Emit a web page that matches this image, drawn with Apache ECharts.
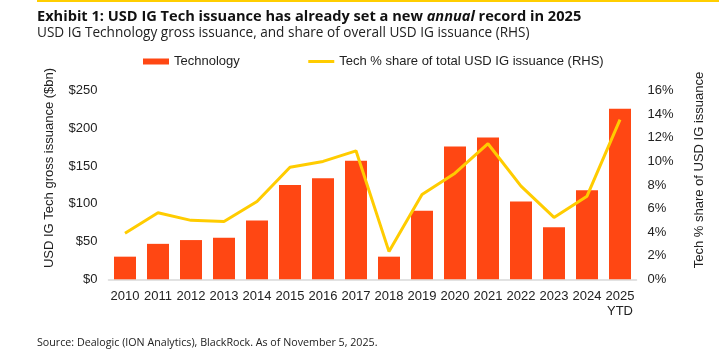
<!DOCTYPE html>
<html>
<head>
<meta charset="utf-8">
<script src="https://cdn.jsdelivr.net/npm/echarts@6/dist/echarts.min.js"></script>
<style>
  html, body { margin: 0; padding: 0; background: #fff; }
  #chart { width: 719px; height: 350px; }
</style>
</head>
<body>
<div id="chart"></div>
<script>
// data
const years = ['2010', '2011', '2012', '2013', '2014', '2015', '2016', '2017',
  '2018', '2019', '2020', '2021', '2022', '2023', '2024', '2025\nYTD']
const techIssuance = [30, 47, 52, 55, 78, 125, 134, 157, 30, 91, 176, 188, 103, 69, 118, 226]
const techShare = [3.9, 5.65, 5.0, 4.9, 6.6, 9.5, 10.0, 10.9, 2.35, 7.2, 9.0, 11.5, 7.9, 5.25, 7.05, 13.55]

const axisFont = 'Liberation Sans, Arial, sans-serif'
const titleFont = 'Open Sans, sans-serif'

const chart = echarts.init(document.getElementById('chart'))

const option = {
  animation: false,
  textStyle: { fontFamily: axisFont },
  title: [
    {
      text: '{b|Exhibit 1: USD IG Tech issuance has already set a new }{i|annual}{b| record in 2025}',
      left: 32,
      top: 4,
      textStyle: {
        rich: {
          b: { fontFamily: titleFont, fontSize: 14.6, fontWeight: 'bold', color: '#111' },
          i: { fontFamily: titleFont, fontSize: 14.6, fontWeight: 'bold', fontStyle: 'italic', color: '#111' }
        }
      },
      subtext: 'USD IG Technology gross issuance, and share of overall USD IG issuance (RHS)',
      subtextStyle: { fontFamily: titleFont, fontSize: 13.6, color: '#222' },
      itemGap: 2
    },
    {
      text: 'Source: Dealogic (ION Analytics), BlackRock. As of November 5, 2025.',
      left: 32,
      top: 332,
      textStyle: { fontFamily: titleFont, fontSize: 10.7, fontWeight: 'normal', color: '#222' }
    }
  ],
  graphic: [
    { type: 'rect', shape: { x: 37, y: 0, width: 682, height: 2 }, style: { fill: '#FFCE00' } }
  ],
  legend: {
    left: 138,
    top: 50,
    itemGap: 67,
    itemWidth: 26,
    itemHeight: 6,
    textStyle: { fontFamily: axisFont, fontSize: 13, color: '#222' },
    data: [
      { name: 'Technology', icon: 'rect' },
      {
        name: 'Tech % share of total USD IG issuance (RHS)',
        itemStyle: { opacity: 0 },
        lineStyle: { width: 3 }
      }
    ]
  },
  grid: { left: 108.5, right: 82.5, top: 90.7, bottom: 70.7 },
  xAxis: {
    type: 'category',
    data: years,
    axisLine: { lineStyle: { color: '#d9d9d9', width: 1.5 } },
    axisTick: { show: false },
    axisLabel: { color: '#222', fontSize: 13, margin: 10, lineHeight: 15, interval: 0 }
  },
  yAxis: [
    {
      type: 'value',
      min: 0, max: 250, interval: 50,
      name: 'USD IG Tech gross issuance ($bn)',
      nameLocation: 'middle',
      nameRotate: 90,
      nameGap: 53,
      nameTextStyle: { color: '#222', fontSize: 13, padding: [0, 0, 0, 34] },
      axisLine: { show: false },
      axisTick: { show: false },
      splitLine: { show: false },
      axisLabel: { color: '#222', fontSize: 13, margin: 11, formatter: v => '$' + v }
    },
    {
      type: 'value',
      min: 0, max: 16, interval: 2,
      name: 'Tech % share of USD IG issuance',
      nameLocation: 'middle',
      nameRotate: 90,
      nameGap: 56,
      nameTextStyle: { color: '#222', fontSize: 13, padding: [0, 0, 0, 30] },
      axisLine: { show: false },
      axisTick: { show: false },
      splitLine: { show: false },
      axisLabel: { color: '#222', fontSize: 13, margin: 11, formatter: v => v + '%' }
    }
  ],
  series: [
    {
      name: 'Technology',
      type: 'bar',
      data: techIssuance,
      barWidth: 22,
      itemStyle: { color: '#FF4713' }
    },
    {
      name: 'Tech % share of total USD IG issuance (RHS)',
      type: 'line',
      yAxisIndex: 1,
      data: techShare,
      symbol: 'none',
      lineStyle: { color: '#FFCC00', width: 3 },
      itemStyle: { color: '#FFCC00' }
    }
  ]
}

chart.setOption(option)
</script>
</body>
</html>
